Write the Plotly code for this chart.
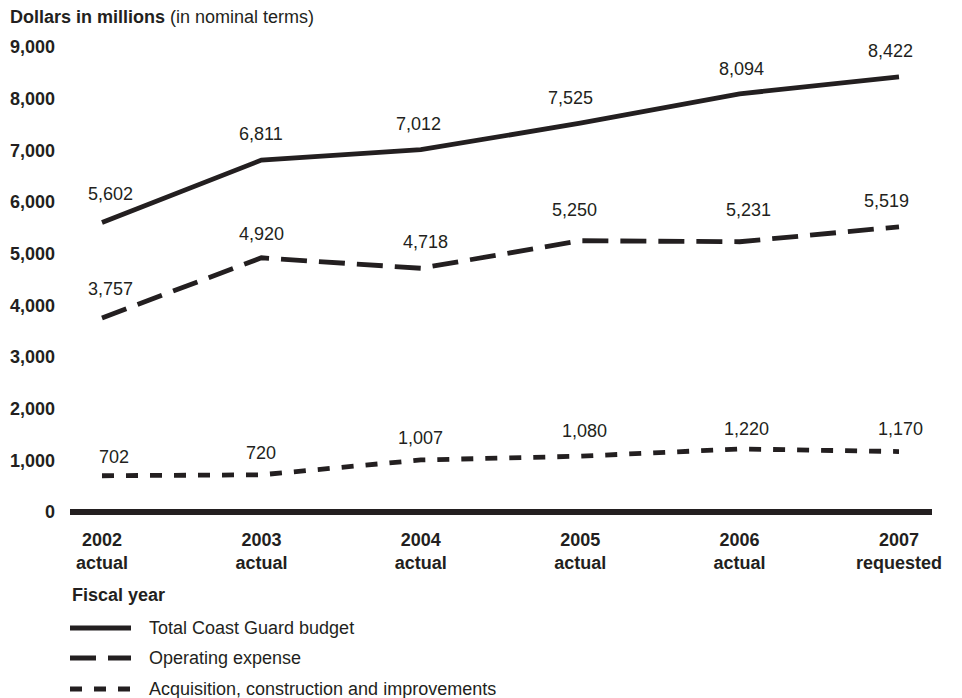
import plotly.graph_objects as go

# ---- data ----
years = ["2002", "2003", "2004", "2005", "2006", "2007"]
year_status = ["actual", "actual", "actual", "actual", "actual", "requested"]
total_budget = [5602, 6811, 7012, 7525, 8094, 8422]
operating_expense = [3757, 4920, 4718, 5250, 5231, 5519]
acquisition = [702, 720, 1007, 1080, 1220, 1170]
y_ticks = [0, 1000, 2000, 3000, 4000, 5000, 6000, 7000, 8000, 9000]

series_names = ["Total Coast Guard budget", "Operating expense",
                "Acquisition, construction and improvements"]

# ---- styles ----
INK = "#231f20"
FONT = "Liberation Sans"
dashes = ["solid", "26px,12px", "12px,12px"]
# label offsets (pixels) per series, per year
label_dx = [[8, 0, -2, -10, 2, -9],
            [8, 0, 5, -6, 9, -13],
            [12, 0, 0, 4, 7, 1]]
label_dy = [[29, 26, 26, 25, 25, 26],
            [29, 24, 26, 31, 32, 26],
            [19, 22, 22, 25, 20, 23]]

W, H = 962, 698
L, R, T, B = 70, 30, 30, 178
plot_w = W - L - R
plot_h = H - T - B

x_idx = list(range(len(years)))
fig = go.Figure()
all_series = [total_budget, operating_expense, acquisition]
for name, vals, dash in zip(series_names, all_series, dashes):
    fig.add_trace(go.Scatter(
        x=x_idx, y=vals, mode="lines", name=name,
        line=dict(color=INK, width=4.8, dash=dash),
        showlegend=False, hoverinfo="skip"))

annotations = []
for si, vals in enumerate(all_series):
    for xi, v in enumerate(vals):
        annotations.append(dict(
            x=xi, y=v, xref="x", yref="y", text=f"{v:,}",
            showarrow=False, xshift=label_dx[si][xi], yshift=label_dy[si][xi],
            font=dict(family=FONT, size=18, color=INK)))

def px_to_paper(px, py):
    return (px - L) / plot_w, (H - B - py) / plot_h

# Fiscal year label
fx, fy = px_to_paper(70, 595)
annotations.append(dict(x=fx, y=fy, xref="paper", yref="paper", text="<b>Fiscal year</b>",
                        showarrow=False, xanchor="left", yanchor="middle",
                        font=dict(family=FONT, size=18, color=INK)))

# custom legend
shapes = []
legend_y = [628, 658, 689]
for name, dash, ly in zip(series_names, dashes, legend_y):
    x0, y0 = px_to_paper(70, ly)
    x1, _ = px_to_paper(131, ly)
    shapes.append(dict(type="line", xref="paper", yref="paper", x0=x0, x1=x1, y0=y0, y1=y0,
                       line=dict(color=INK, width=5, dash=dash)))
    tx, ty = px_to_paper(147, ly)
    annotations.append(dict(x=tx, y=ty, xref="paper", yref="paper", text=name,
                            showarrow=False, xanchor="left", yanchor="middle",
                            font=dict(family=FONT, size=18, color=INK)))

# axis ranges: 0 at 512 px, 9000 at 47 px
px_per_unit = (512 - 47) / 9000
y_min = -((H - B) - 512) / px_per_unit
y_max = 9000 + (47 - T) / px_per_unit
px_per_x = (899 - 102) / 5
x_min = -(102 - L) / px_per_x
x_max = 5 + ((W - R) - 899) / px_per_x

fig.update_layout(
    width=W, height=H,
    margin=dict(l=L, r=R, t=T, b=B, autoexpand=False),
    paper_bgcolor="white", plot_bgcolor="white",
    title=dict(text="<b>Dollars in millions</b> (in nominal terms)",
               x=10 / W, xref="container", xanchor="left",
               y=1 - 17 / H, yref="container", yanchor="middle",
               font=dict(family=FONT, size=18, color=INK)),
    xaxis=dict(range=[x_min, x_max], tickvals=x_idx,
               ticktext=[f"{y}<br>{s}" for y, s in zip(years, year_status)],
               tickfont=dict(family=FONT, size=18, color=INK, weight="bold"),
               showgrid=False, zeroline=False, showline=False, ticks="",
               ticklabelstandoff=7, fixedrange=True),
    yaxis=dict(range=[y_min, y_max], tickvals=y_ticks,
               ticktext=[f"{t:,}" for t in y_ticks],
               tickfont=dict(family=FONT, size=18, color=INK, weight="bold"),
               showgrid=False, zeroline=True, zerolinewidth=6, zerolinecolor=INK,
               showline=False, ticks="", ticklabelstandoff=14, fixedrange=True),
    annotations=annotations, shapes=shapes,
    font=dict(family=FONT, color=INK),
)

fig.write_html("out.html", config={"displayModeBar": False},
               post_script="document.body.style.margin='0';document.body.style.overflow='hidden';")
